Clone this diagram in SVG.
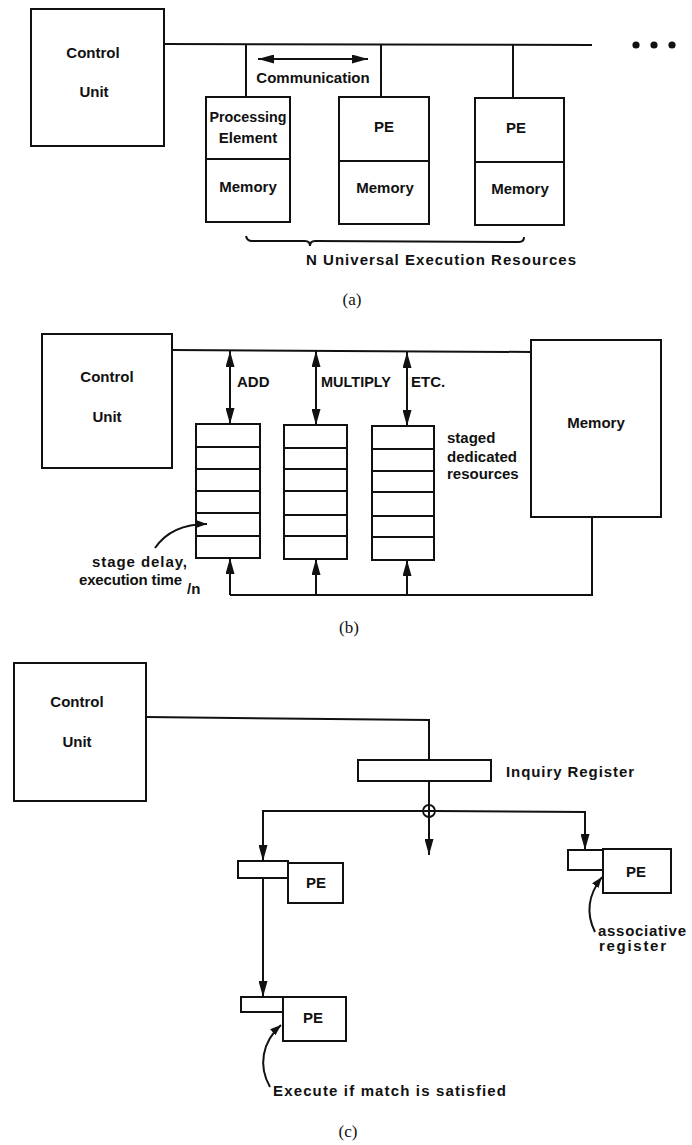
<svg xmlns="http://www.w3.org/2000/svg" width="692" height="1145" viewBox="0 0 692 1145">
<style>
.b{fill:#fff;stroke:#111;stroke-width:2}
.l{fill:none;stroke:#111;stroke-width:2}
.t{font-family:"Liberation Sans",Arial,sans-serif;font-weight:bold;font-size:15px;fill:#111}
.m{text-anchor:middle}
.cap{font-family:"Liberation Serif","Times New Roman",serif;font-size:17px;fill:#111;text-anchor:middle}
</style>
<defs>
<marker id="ar" markerUnits="userSpaceOnUse" markerWidth="16" markerHeight="9" refX="16" refY="4.5" orient="auto-start-reverse"><path d="M0,0 L16,4.5 L0,9 z" fill="#111"/></marker>
<marker id="as" markerUnits="userSpaceOnUse" markerWidth="11" markerHeight="8" refX="11" refY="4" orient="auto"><path d="M0,0 L11,4 L0,8 z" fill="#111"/></marker>
</defs>
<rect width="692" height="1145" fill="#fff"/>

<!-- (a) -->
<g id="a-control"><rect class="b" x="31" y="9" width="133" height="137"/><text class="t m" x="93" y="58">Control</text><text class="t m" x="94" y="97">Unit</text></g>
<g id="a-pe1"><rect class="b" x="206" y="97" width="84" height="125"/><path class="l" d="M206,159 H290"/><text class="t m" x="248" y="122" textLength="77" lengthAdjust="spacingAndGlyphs">Processing</text><text class="t m" x="248" y="143">Element</text><text class="t m" x="248" y="192">Memory</text></g>
<g id="a-pe2"><rect class="b" x="339" y="97" width="90" height="127"/><path class="l" d="M339,161 H429"/><text class="t m" x="384" y="132">PE</text><text class="t m" x="385" y="193">Memory</text></g>
<g id="a-pe3"><rect class="b" x="475" y="98" width="89" height="127"/><path class="l" d="M475,162 H564"/><text class="t m" x="516" y="133">PE</text><text class="t m" x="520" y="194">Memory</text></g>
<g id="a-dots"><circle cx="636" cy="45" r="3.6" fill="#111"/><circle cx="654" cy="45" r="3.6" fill="#111"/><circle cx="672" cy="45" r="3.6" fill="#111"/></g>
<g id="connectors-a">
<path class="l" d="M164,44 L592,45"/>
<path class="l" d="M246,44 V97 M381,45 V97 M513,45 V98"/>
<path class="l" d="M258,59 H368" marker-start="url(#ar)" marker-end="url(#ar)"/>
<path class="l" d="M246,236 Q247,241 252,241 L305,241 Q310,241 310,246 Q310,241 315,241 L519,242 Q524,242 524,237" stroke-width="1.6"/>
</g>
<text class="t m" x="313" y="83">Communication</text>
<text class="t" x="306" y="265" textLength="270" lengthAdjust="spacing">N Universal Execution Resources</text>
<text class="cap" x="352" y="305">(a)</text>

<!-- (b) -->
<g id="b-control"><rect class="b" x="42" y="334" width="130" height="134"/><text class="t m" x="107" y="382">Control</text><text class="t m" x="107" y="422">Unit</text></g>
<g id="b-memory"><rect class="b" x="531" y="340" width="130" height="177"/><text class="t m" x="596" y="428">Memory</text></g>
<g id="b-stack1"><rect class="b" x="196" y="424" width="64" height="134"/><path class="l" d="M196,447 H260 M196,469 H260 M196,491 H260 M196,513 H260 M196,536 H260"/></g>
<g id="b-stack2"><rect class="b" x="284" y="425" width="63" height="134"/><path class="l" d="M284,448 H347 M284,469 H347 M284,491 H347 M284,515 H347 M284,536 H347"/></g>
<g id="b-stack3"><rect class="b" x="372" y="426" width="62" height="134"/><path class="l" d="M372,449 H434 M372,471 H434 M372,492 H434 M372,516 H434 M372,537 H434"/></g>
<g id="connectors-b">
<path class="l" d="M172,350 L531,352"/>
<path class="l" d="M230,351 V424" marker-start="url(#ar)" marker-end="url(#ar)"/>
<path class="l" d="M316,351 V425" marker-start="url(#ar)" marker-end="url(#ar)"/>
<path class="l" d="M407,352 V426" marker-start="url(#ar)" marker-end="url(#ar)"/>
<path class="l" d="M230,595 H592 V517"/>
<path class="l" d="M230,595 V558" marker-end="url(#ar)"/>
<path class="l" d="M316,595 V559" marker-end="url(#ar)"/>
<path class="l" d="M407,595 V560" marker-end="url(#ar)"/>
<path class="l" d="M155,548 C166,532 182,524 207,524" marker-end="url(#as)"/>
</g>
<text class="t" x="237" y="387" font-weight="normal">ADD</text>
<text class="t" x="321" y="387" textLength="70" lengthAdjust="spacingAndGlyphs" font-weight="normal">MULTIPLY</text>
<text class="t" x="411" y="387" font-weight="normal">ETC.</text>
<text class="t" x="447" y="443">staged</text>
<text class="t" x="447" y="462">dedicated</text>
<text class="t" x="447" y="479">resources</text>
<text class="t" x="92" y="567" textLength="95" lengthAdjust="spacing">stage delay,</text>
<text class="t" x="79" y="585" textLength="103" lengthAdjust="spacing">execution time</text>
<text class="t" x="187" y="594" font-size="11px">/n</text>
<text class="cap" x="349" y="633">(b)</text>

<!-- (c) -->
<g id="c-control"><rect class="b" x="14" y="663" width="132" height="138"/><text class="t m" x="77" y="707">Control</text><text class="t m" x="77" y="747">Unit</text></g>
<g id="c-inquiry"><rect class="b" x="358" y="760" width="133" height="21"/><text class="t" x="506" y="777" textLength="128" lengthAdjust="spacing" font-weight="normal">Inquiry Register</text></g>
<g id="c-pe1"><rect class="b" x="238" y="861" width="50" height="17"/><rect class="b" x="288" y="863" width="55" height="40"/><text class="t m" x="316" y="888">PE</text></g>
<g id="c-pe2"><rect class="b" x="241" y="997" width="42" height="15"/><rect class="b" x="283" y="997" width="63" height="44"/><text class="t m" x="313" y="1023">PE</text></g>
<g id="c-pe3"><rect class="b" x="568" y="850" width="35" height="20"/><rect class="b" x="603" y="849" width="68" height="44"/><text class="t m" x="636" y="877">PE</text></g>
<g id="c-xor"><circle cx="429" cy="811" r="6" fill="none" stroke="#111" stroke-width="1.8"/><path class="l" d="M423,811 H435 M429,805 V817" stroke-width="1.5"/></g>
<g id="connectors-c">
<path class="l" d="M146,717 L429,720 V760" stroke-width="1.8"/>
<path class="l" d="M429,781 V805" stroke-width="1.8"/>
<path class="l" d="M429,817 V855" stroke-width="1.8" marker-end="url(#ar)"/>
<path class="l" d="M423,811 H263 V861" stroke-width="1.8" marker-end="url(#ar)"/>
<path class="l" d="M435,811 L585,812 V850" stroke-width="1.8" marker-end="url(#ar)"/>
<path class="l" d="M263,878 V997" stroke-width="1.8" marker-end="url(#ar)"/>
<path class="l" d="M595,932 C586,914 588,895 602,877" stroke-width="1.8" marker-end="url(#as)"/>
<path class="l" d="M270,1087 C258,1066 262,1042 281,1025" stroke-width="1.8" marker-end="url(#as)"/>
</g>
<text class="t" x="598" y="936" font-size="13px" textLength="88" lengthAdjust="spacing">associative</text>
<text class="t" x="599" y="951" font-size="13px" textLength="67" lengthAdjust="spacing">register</text>
<text class="t" x="273" y="1096" textLength="233" lengthAdjust="spacing">Execute if match is satisfied</text>
<text class="cap" x="348" y="1137">(c)</text>
</svg>
